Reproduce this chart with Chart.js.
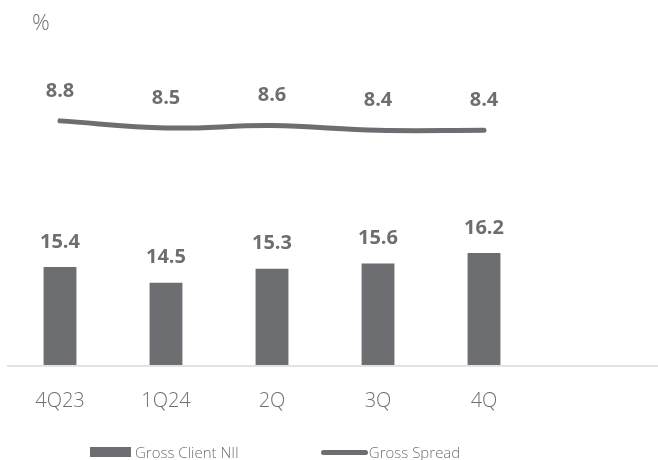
<!DOCTYPE html>
<html>
<head>
<meta charset="utf-8">
<script src="https://cdn.jsdelivr.net/npm/chart.js@4.4.1/dist/chart.umd.min.js"></script>
<style>
    body { margin: 0; background: #fff; }
    .wrap { position: relative; width: 658px; height: 460px; font-family: "Open Sans", sans-serif; }
    .unit { position: absolute; left: 32px; top: 6px; font-size: 22px; font-weight: 300; color: #707070; }
    .legend { position: absolute; left: 90px; top: 442px; display: flex; align-items: center; font-size: 15px; font-weight: 300; color: #707070; }
    .legend .item { display: flex; align-items: center; margin-right: 82px; }
    .legend .box { width: 41px; height: 10px; background: #6d6e71; margin-right: 4px; }
    .legend .ln { width: 47px; height: 5px; border-radius: 3px; background: #6d6e71; margin-right: 1px; }
</style>
</head>
<body>
<div class="wrap">
    <canvas id="nii" width="658" height="460"></canvas>
    <div class="unit">%</div>
    <div class="legend" id="legend"></div>
</div>
<script>
let quarters = ["4Q23", "1Q24", "2Q", "3Q", "4Q"];
let clientNII = [15.4, 14.5, 15.3, 15.6, 16.2];
let grossSpread = [8.8, 8.5, 8.6, 8.4, 8.4];
let seriesNames = ["Gross Client NII", "Gross Spread"];

const grey = "#6d6e71";

// value labels above bars / points
const valueLabels = {
    id: "valueLabels",
    afterDatasetsDraw(chart, args, opts) {
        let ctx = chart.ctx;
        ctx.save();
        ctx.fillStyle = grey;
        ctx.font = "bold 20px 'Open Sans', sans-serif";
        ctx.textAlign = "center";
        ctx.textBaseline = "middle";
        chart.data.datasets.forEach((ds, i) => {
            let meta = chart.getDatasetMeta(i);
            let off = opts.offsets[i];
            meta.data.forEach((el, j) => {
                ctx.fillText(ds.data[j].toFixed(1), el.x, el.y - off);
            });
        });
        ctx.restore();
    }
};

// light baseline running to the right edge
const baseLine = {
    id: "baseLine",
    beforeDatasetsDraw(chart) {
        let ctx = chart.ctx;
        let y = chart.chartArea.bottom + 1;
        ctx.save();
        ctx.strokeStyle = "#e3e3e3";
        ctx.lineWidth = 2;
        ctx.beginPath();
        ctx.moveTo(chart.chartArea.left, y);
        ctx.lineTo(chart.width, y);
        ctx.stroke();
        ctx.restore();
    }
};

let ctx = document.getElementById("nii").getContext("2d");
let chart = new Chart(ctx, {
    data: {
        labels: quarters,
        datasets: [{
            type: "bar",
            label: seriesNames[0],
            data: clientNII,
            backgroundColor: grey,
            yAxisID: "y",
            categoryPercentage: 1,
            barPercentage: 0.31,
            order: 2
        }, {
            type: "line",
            label: seriesNames[1],
            data: grossSpread,
            borderColor: grey,
            borderWidth: 5,
            borderCapStyle: "round",
            tension: 0.4,
            pointRadius: 0,
            yAxisID: "y2",
            order: 1
        }]
    },
    options: {
        responsive: false,
        animation: false,
        layout: { padding: { left: 7, right: 121, top: 0, bottom: 23 } },
        plugins: {
            legend: { display: false },
            tooltip: { enabled: false },
            valueLabels: { offsets: [25, 30] }
        },
        scales: {
            x: {
                grid: { display: false, drawTicks: false },
                border: { display: false },
                ticks: {
                    padding: 24,
                    color: "#707070",
                    font: { family: "'Open Sans', sans-serif", size: 20, weight: 300 }
                }
            },
            y: { display: false, min: 9.8, max: 30.66 },
            y2: { display: false, min: -1.5, max: 13.9 }
        }
    },
    plugins: [valueLabels, baseLine]
});

// html legend
let lg = document.getElementById("legend");
chart.data.datasets.forEach(ds => {
    let item = document.createElement("div");
    item.className = "item";
    let sw = document.createElement("span");
    sw.className = ds.type == "bar" ? "box" : "ln";
    item.appendChild(sw);
    item.appendChild(document.createTextNode(ds.label));
    lg.appendChild(item);
});
</script>
</body>
</html>
